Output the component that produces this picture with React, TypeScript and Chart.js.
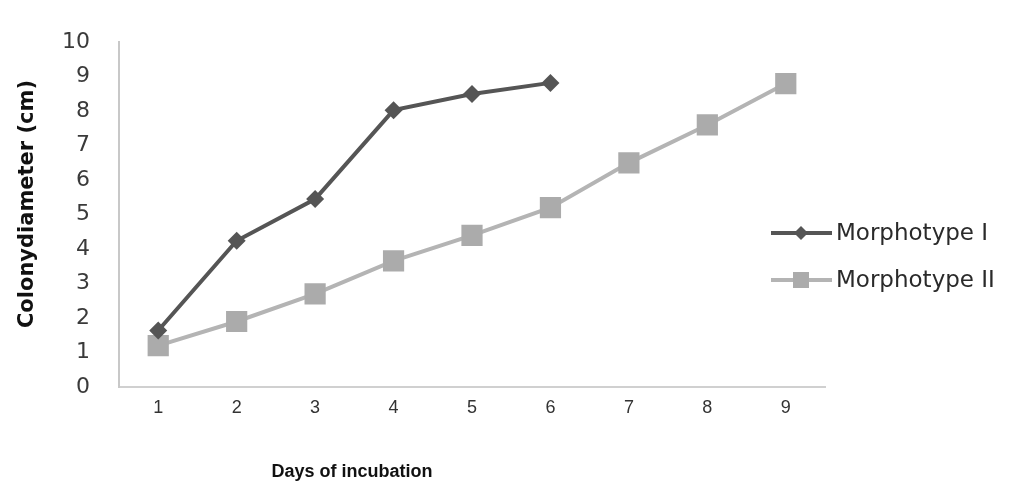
import React, { useEffect, useRef } from "react";
import { Chart, registerables } from "chart.js";

Chart.register(...registerables);

const days = ["1", "2", "3", "4", "5", "6", "7", "8", "9"];
const morphotypeI = [1.64, 4.24, 5.45, 8.03, 8.5, 8.82];
const morphotypeII = [1.2, 1.9, 2.7, 3.66, 4.4, 5.2, 6.5, 7.6, 8.8];
const yTicks = [0, 1, 2, 3, 4, 5, 6, 7, 8, 9, 10];

const xTitle = "Days of incubation";
const yTitle = "Colonydiameter (cm)";

const darkColor = "#555555";
const lightColor = "#ababab";

const decorPlugin = {
  id: "decor",
  afterDraw(chart: any) {
    const ctx = chart.ctx;
    ctx.save();
    // axis titles
    ctx.fillStyle = "#111111";
    ctx.font = "bold 18px 'Liberation Sans', Arial, sans-serif";
    ctx.textAlign = "center";
    ctx.textBaseline = "middle";
    ctx.fillText(xTitle, 352, 472);
    ctx.translate(28, 204);
    ctx.rotate(-Math.PI / 2);
    ctx.font = "bold 21px 'DejaVu Sans', sans-serif";
    ctx.fillText(yTitle, 0, 0);
    ctx.restore();

    // legend
    ctx.save();
    const items = chart.data.datasets;
    const ys = [233, 280];
    items.forEach((ds: any, i: number) => {
      const y = ys[i];
      ctx.strokeStyle = ds.borderColor;
      ctx.lineWidth = ds.borderWidth;
      ctx.beginPath();
      ctx.moveTo(771, y);
      ctx.lineTo(832, y);
      ctx.stroke();
      ctx.fillStyle = ds.pointBackgroundColor;
      const cx = 801;
      if (ds.pointStyle === "rectRot") {
        const r = 7;
        ctx.beginPath();
        ctx.moveTo(cx, y - r);
        ctx.lineTo(cx + r, y);
        ctx.lineTo(cx, y + r);
        ctx.lineTo(cx - r, y);
        ctx.closePath();
        ctx.fill();
      } else {
        const s = 16;
        ctx.fillRect(cx - s / 2, y - s / 2, s, s);
      }
      ctx.fillStyle = "#2a2a2a";
      ctx.font = "23px 'DejaVu Sans', sans-serif";
      ctx.textAlign = "left";
      ctx.textBaseline = "middle";
      ctx.fillText(ds.label, 836, y + 1);
    });
    ctx.restore();
  },
};

export default function App() {
  const ref = useRef<HTMLCanvasElement | null>(null);
  useEffect(() => {
    if (!ref.current) return;
    const chart = new Chart(ref.current, {
      type: "line",
      data: {
        labels: days,
        datasets: [
          {
            label: "Morphotype I",
            data: morphotypeI,
            borderColor: darkColor,
            backgroundColor: darkColor,
            pointBackgroundColor: darkColor,
            pointBorderColor: darkColor,
            borderWidth: 4,
            pointStyle: "rectRot",
            pointRadius: 9,
            pointBorderWidth: 0,
          },
          {
            label: "Morphotype II",
            data: morphotypeII,
            borderColor: "#b4b4b4",
            backgroundColor: lightColor,
            pointBackgroundColor: lightColor,
            pointBorderColor: lightColor,
            borderWidth: 4,
            pointStyle: "rect",
            pointRadius: 15,
            pointBorderWidth: 0,
          },
        ],
      },
      plugins: [decorPlugin],
      options: {
        animation: false,
        responsive: false,
        maintainAspectRatio: false,
        layout: { padding: { left: 0, right: 187, top: 23, bottom: 0 } },
        plugins: {
          legend: { display: false },
          tooltip: { enabled: false },
        },
        scales: {
          x: {
            offset: true,
            grid: { display: false, drawTicks: false },
            border: { display: true, color: "#d0d0d0", width: 2 },
            ticks: {
              padding: 10,
              color: "#333333",
              font: { family: "'Liberation Sans Narrow', 'Liberation Sans', Arial, sans-serif", size: 18 },
            },
            afterFit(scale: any) {
              scale.height = 99;
            },
          },
          y: {
            min: 0,
            max: 10,
            afterBuildTicks(scale: any) {
              scale.ticks = yTicks.map((v) => ({ value: v }));
            },
            grid: { display: false, drawTicks: false },
            border: { display: true, color: "#c8c8c8", width: 2 },
            ticks: {
              padding: 29,
              color: "#3a3a3a",
              font: { family: "'DejaVu Sans', sans-serif", size: 22 },
            },
            afterFit(scale: any) {
              scale.width = 119;
            },
          },
        },
      },
    });
    return () => chart.destroy();
  }, []);
  return (
    <div style={{ position: "absolute", left: 0, top: 0, width: 1012, height: 486, background: "#ffffff" }}>
      <canvas ref={ref} width={1012} height={486} style={{ width: 1012, height: 486 }} />
    </div>
  );
}
